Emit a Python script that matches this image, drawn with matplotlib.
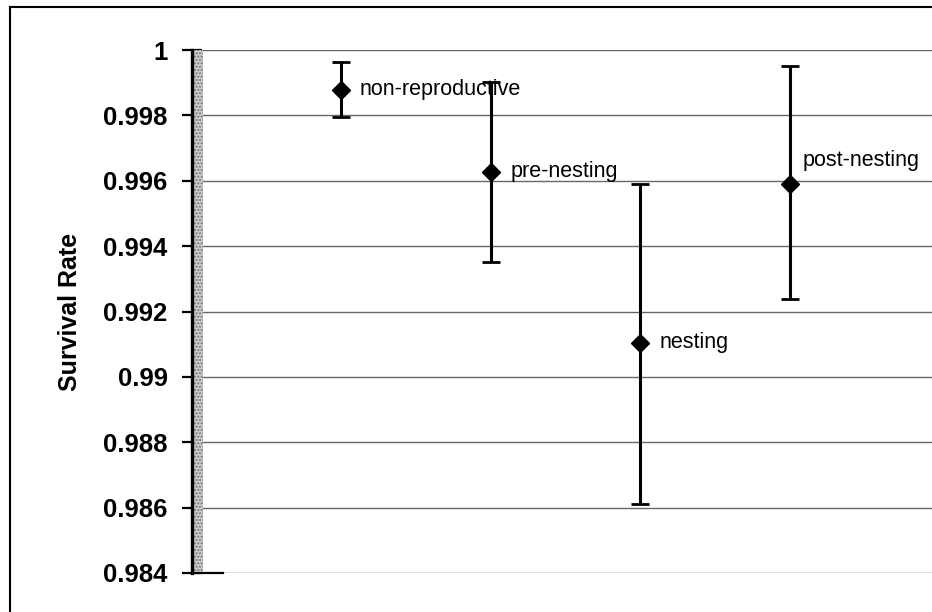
import matplotlib.pyplot as plt
from matplotlib.patches import Rectangle
from matplotlib.lines import Line2D

plt.rcParams['font.family'] = ['Liberation Sans', 'DejaVu Sans']

# survival estimates per stage with upper / lower confidence limits
stages = ['non-reproductive', 'pre-nesting', 'nesting', 'post-nesting']
survival = [0.99878, 0.99627, 0.99104, 0.99590]
upper = [0.99964, 0.99902, 0.99590, 0.99951]
lower = [0.99796, 0.99352, 0.98612, 0.99239]

yticks = [0.984, 0.986, 0.988, 0.99, 0.992, 0.994, 0.996, 0.998, 1.0]
yticklabels = ['0.984', '0.986', '0.988', '0.99', '0.992', '0.994', '0.996', '0.998', '1']

W, H = 932, 612
fig = plt.figure(figsize=(W / 100, H / 100), dpi=100)
ax = fig.add_axes([192 / W, (H - 573) / H, 1 - 192 / W, (573 - 50) / H])

x = list(range(1, len(stages) + 1))
err_lo = [s - l for s, l in zip(survival, lower)]
err_hi = [u - s for s, u in zip(survival, upper)]

ax.errorbar(x, survival, yerr=[err_lo, err_hi], fmt='D', color='black',
            markersize=9, elinewidth=2.2, capsize=6.5, capthick=2, zorder=5)

# stage labels beside each point
offsets = [(13, 0), (14, 0), (14, 0), (9, 17)]
for xi, s, name, off in zip(x, survival, stages, offsets):
    ax.annotate(name, (xi, s), xytext=off, textcoords='offset points',
                ha='left', va='center', fontsize=15.5, zorder=6)

ax.set_xlim(0, 4.95)
ax.set_ylim(0.984, 1.0)
ax.set_yticks(yticks)
ax.set_yticklabels(yticklabels, fontsize=18.5, fontweight='bold')
ax.set_xticks([])
ax.yaxis.grid(True, color='0.4', linewidth=1.0)
ax.set_axisbelow(True)
ax.tick_params(axis='y', direction='inout', length=15, width=1.6, pad=10)

for side in ['top', 'right', 'bottom']:
    ax.spines[side].set_visible(False)
ax.spines['left'].set_linewidth(2.4)
ax.spines['left'].set_zorder(4)

# shaded band along the value axis
ax.add_patch(Rectangle((0, 0), 0.015, 1, transform=ax.transAxes,
                       facecolor='0.8', edgecolor='0.45', hatch='.....',
                       linewidth=0, zorder=3, clip_on=False))
# short stub of the category axis
ax.plot([0, 0.21], [0.984, 0.984], color='black', linewidth=1.6,
        clip_on=False, zorder=4)

ax.set_ylabel('Survival Rate', fontsize=18, fontweight='bold')
ax.yaxis.set_label_coords(-0.148, 0.5)

# chart area border
fig.add_artist(Line2D([10 / W, 10 / W], [0, 1 - 7 / H], color='black', linewidth=1.5))
fig.add_artist(Line2D([10 / W, 1], [1 - 7 / H, 1 - 7 / H], color='black', linewidth=1.5))

fig.savefig('out.png', dpi=100)
